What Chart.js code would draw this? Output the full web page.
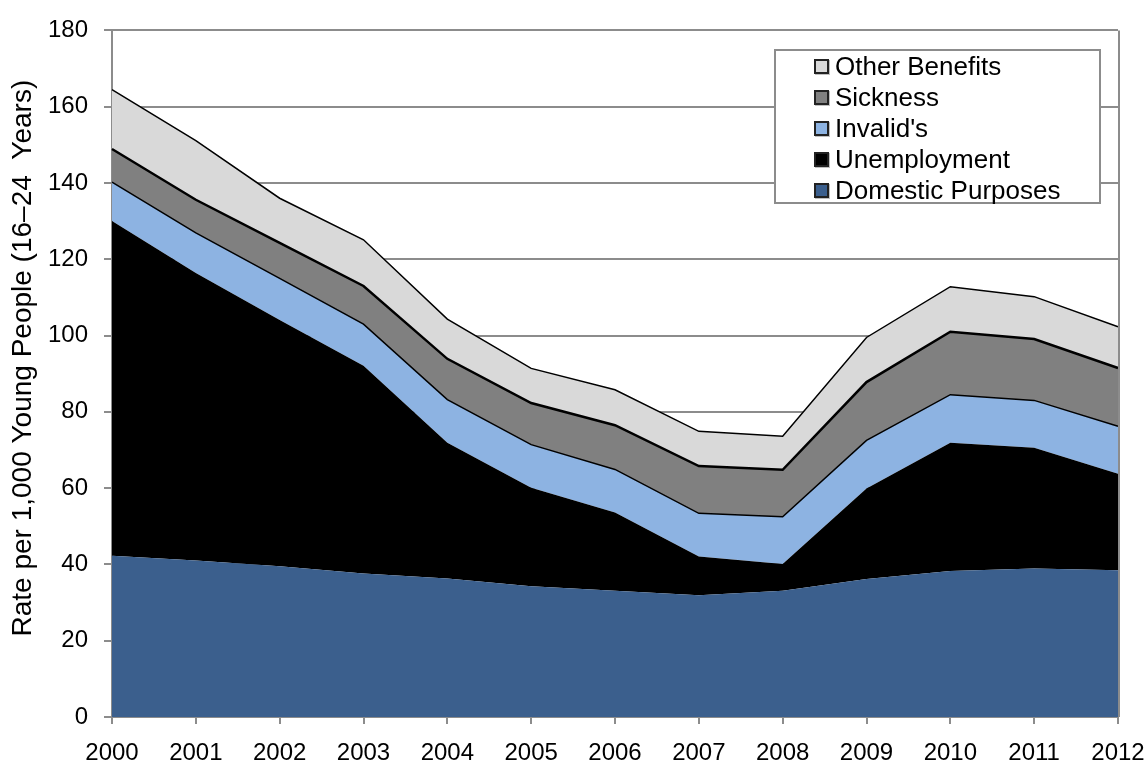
<!DOCTYPE html>
<html>
<head>
<meta charset="utf-8">
<script src="https://cdn.jsdelivr.net/npm/chart.js@4/dist/chart.umd.min.js"></script>
<style>
  html, body { margin: 0; padding: 0; background: #fff; }
  #wrap { position: relative; width: 1144px; height: 762px; overflow: hidden; }
  canvas { display: block; }
  #legend {
    position: absolute; left: 774px; top: 49px; width: 327px; height: 155px;
    border: 2px solid #8c8c8c; box-sizing: border-box; background: #fff;
    font-family: "Liberation Sans", Arial, sans-serif; font-size: 26px; color: #000;
    padding-top: 0px;
  }
  .item { display: flex; align-items: center; height: 31px; padding-left: 38px; }
  .sw { width: 11px; height: 11px; border: 2px solid #222; margin-right: 6px; box-shadow: 1px 1px 0 rgba(0,0,0,0.25); }
</style>
</head>
<body>
<div id="wrap">
  <canvas id="c" width="1144" height="762"></canvas>
  <div id="legend"></div>
</div>
<script>
const years = ["2000","2001","2002","2003","2004","2005","2006","2007","2008","2009","2010","2011","2012"];
const domesticPurposes = [42.3, 41.0, 39.5, 37.6, 36.3, 34.3, 33.1, 31.9, 33.1, 36.2, 38.3, 38.9, 38.5];
const unemployment     = [87.7, 75.4, 64.6, 54.5, 35.6, 25.8, 20.5, 10.2, 7.0, 23.7, 33.6, 31.7, 25.3];
const invalids         = [10.2, 10.5, 10.9, 10.9, 11.3, 11.3, 11.3, 11.3, 12.4, 12.6, 12.6, 12.4, 12.4];
const sickness         = [8.7, 8.7, 9.3, 10.0, 10.7, 10.9, 11.6, 12.4, 12.3, 15.3, 16.5, 16.1, 15.3];
const otherBenefits    = [15.6, 15.5, 11.7, 12.1, 10.4, 9.1, 9.3, 9.1, 8.8, 11.7, 11.8, 11.1, 10.8];
const yTicks = [0, 20, 40, 60, 80, 100, 120, 140, 160, 180];

const seriesNames = ["Domestic Purposes", "Unemployment", "Invalid's", "Sickness", "Other Benefits"];
const seriesData = [domesticPurposes, unemployment, invalids, sickness, otherBenefits];
const fills = ["#3B5F8D", "#000000", "#8DB3E2", "#808080", "#D9D9D9"];
const borders = [0, 0, 1.5, 2.5, 1.5];

const datasets = seriesData.map((d, i) => ({
  label: seriesNames[i],
  data: d,
  backgroundColor: fills[i],
  borderColor: borders[i] ? "#000" : fills[i],
  borderWidth: borders[i],
  fill: i === 0 ? "origin" : "-1",
  pointRadius: 0,
  tension: 0
}));

const FONT = "'Liberation Sans', Arial, sans-serif";

const rightBorder = {
  id: "rightBorder",
  afterDatasetsDraw(chart) {
    const { ctx, chartArea } = chart;
    ctx.save();
    ctx.strokeStyle = "#8c8c8c";
    ctx.lineWidth = 2;
    ctx.beginPath();
    ctx.moveTo(chartArea.right + 1, chartArea.top);
    ctx.lineTo(chartArea.right + 1, chartArea.bottom);
    ctx.stroke();
    ctx.restore();
  }
};

new Chart(document.getElementById("c"), {
  type: "line",
  data: { labels: years, datasets },
  plugins: [rightBorder],
  options: {
    responsive: false,
    animation: false,
    layout: { padding: { top: 27, right: 0, left: 0, bottom: 0 } },
    plugins: { legend: { display: false }, tooltip: { enabled: false } },
    scales: {
      x: {
        offset: false,
        grid: { drawOnChartArea: false, color: "#8c8c8c", tickLength: 7, lineWidth: 2 },
        border: { color: "#8c8c8c", width: 2 },
        ticks: { font: { family: FONT, size: 24 }, color: "#000", padding: 15, maxRotation: 0, autoSkip: false },
        afterFit(s) { s.height = 45; s.paddingRight = 26; }
      },
      y: {
        stacked: true,
        min: 0, max: 180,
        afterBuildTicks(s) { s.ticks = yTicks.map(v => ({ value: v })); },
        grid: { color: "#8c8c8c", lineWidth: 2, tickLength: 8 },
        border: { color: "#8c8c8c", width: 2 },
        ticks: { font: { family: FONT, size: 24 }, color: "#000", padding: 16 },
        title: { display: true, text: "\u00a0\u00a0\u00a0\u00a0Rate per 1,000 Young People (16\u201324  Years)", font: { family: FONT, size: 28 }, color: "#000", padding: { top: 6, bottom: 0 } },
        afterFit(s) { s.width = 112; }
      }
    }
  }
});

const legend = document.getElementById("legend");
for (let i = seriesNames.length - 1; i >= 0; i--) {
  const it = document.createElement("div");
  it.className = "item";
  const sw = document.createElement("span");
  sw.className = "sw";
  sw.style.background = fills[i];
  const tx = document.createElement("span");
  tx.textContent = seriesNames[i];
  it.appendChild(sw); it.appendChild(tx);
  legend.appendChild(it);
}
</script>
</body>
</html>
